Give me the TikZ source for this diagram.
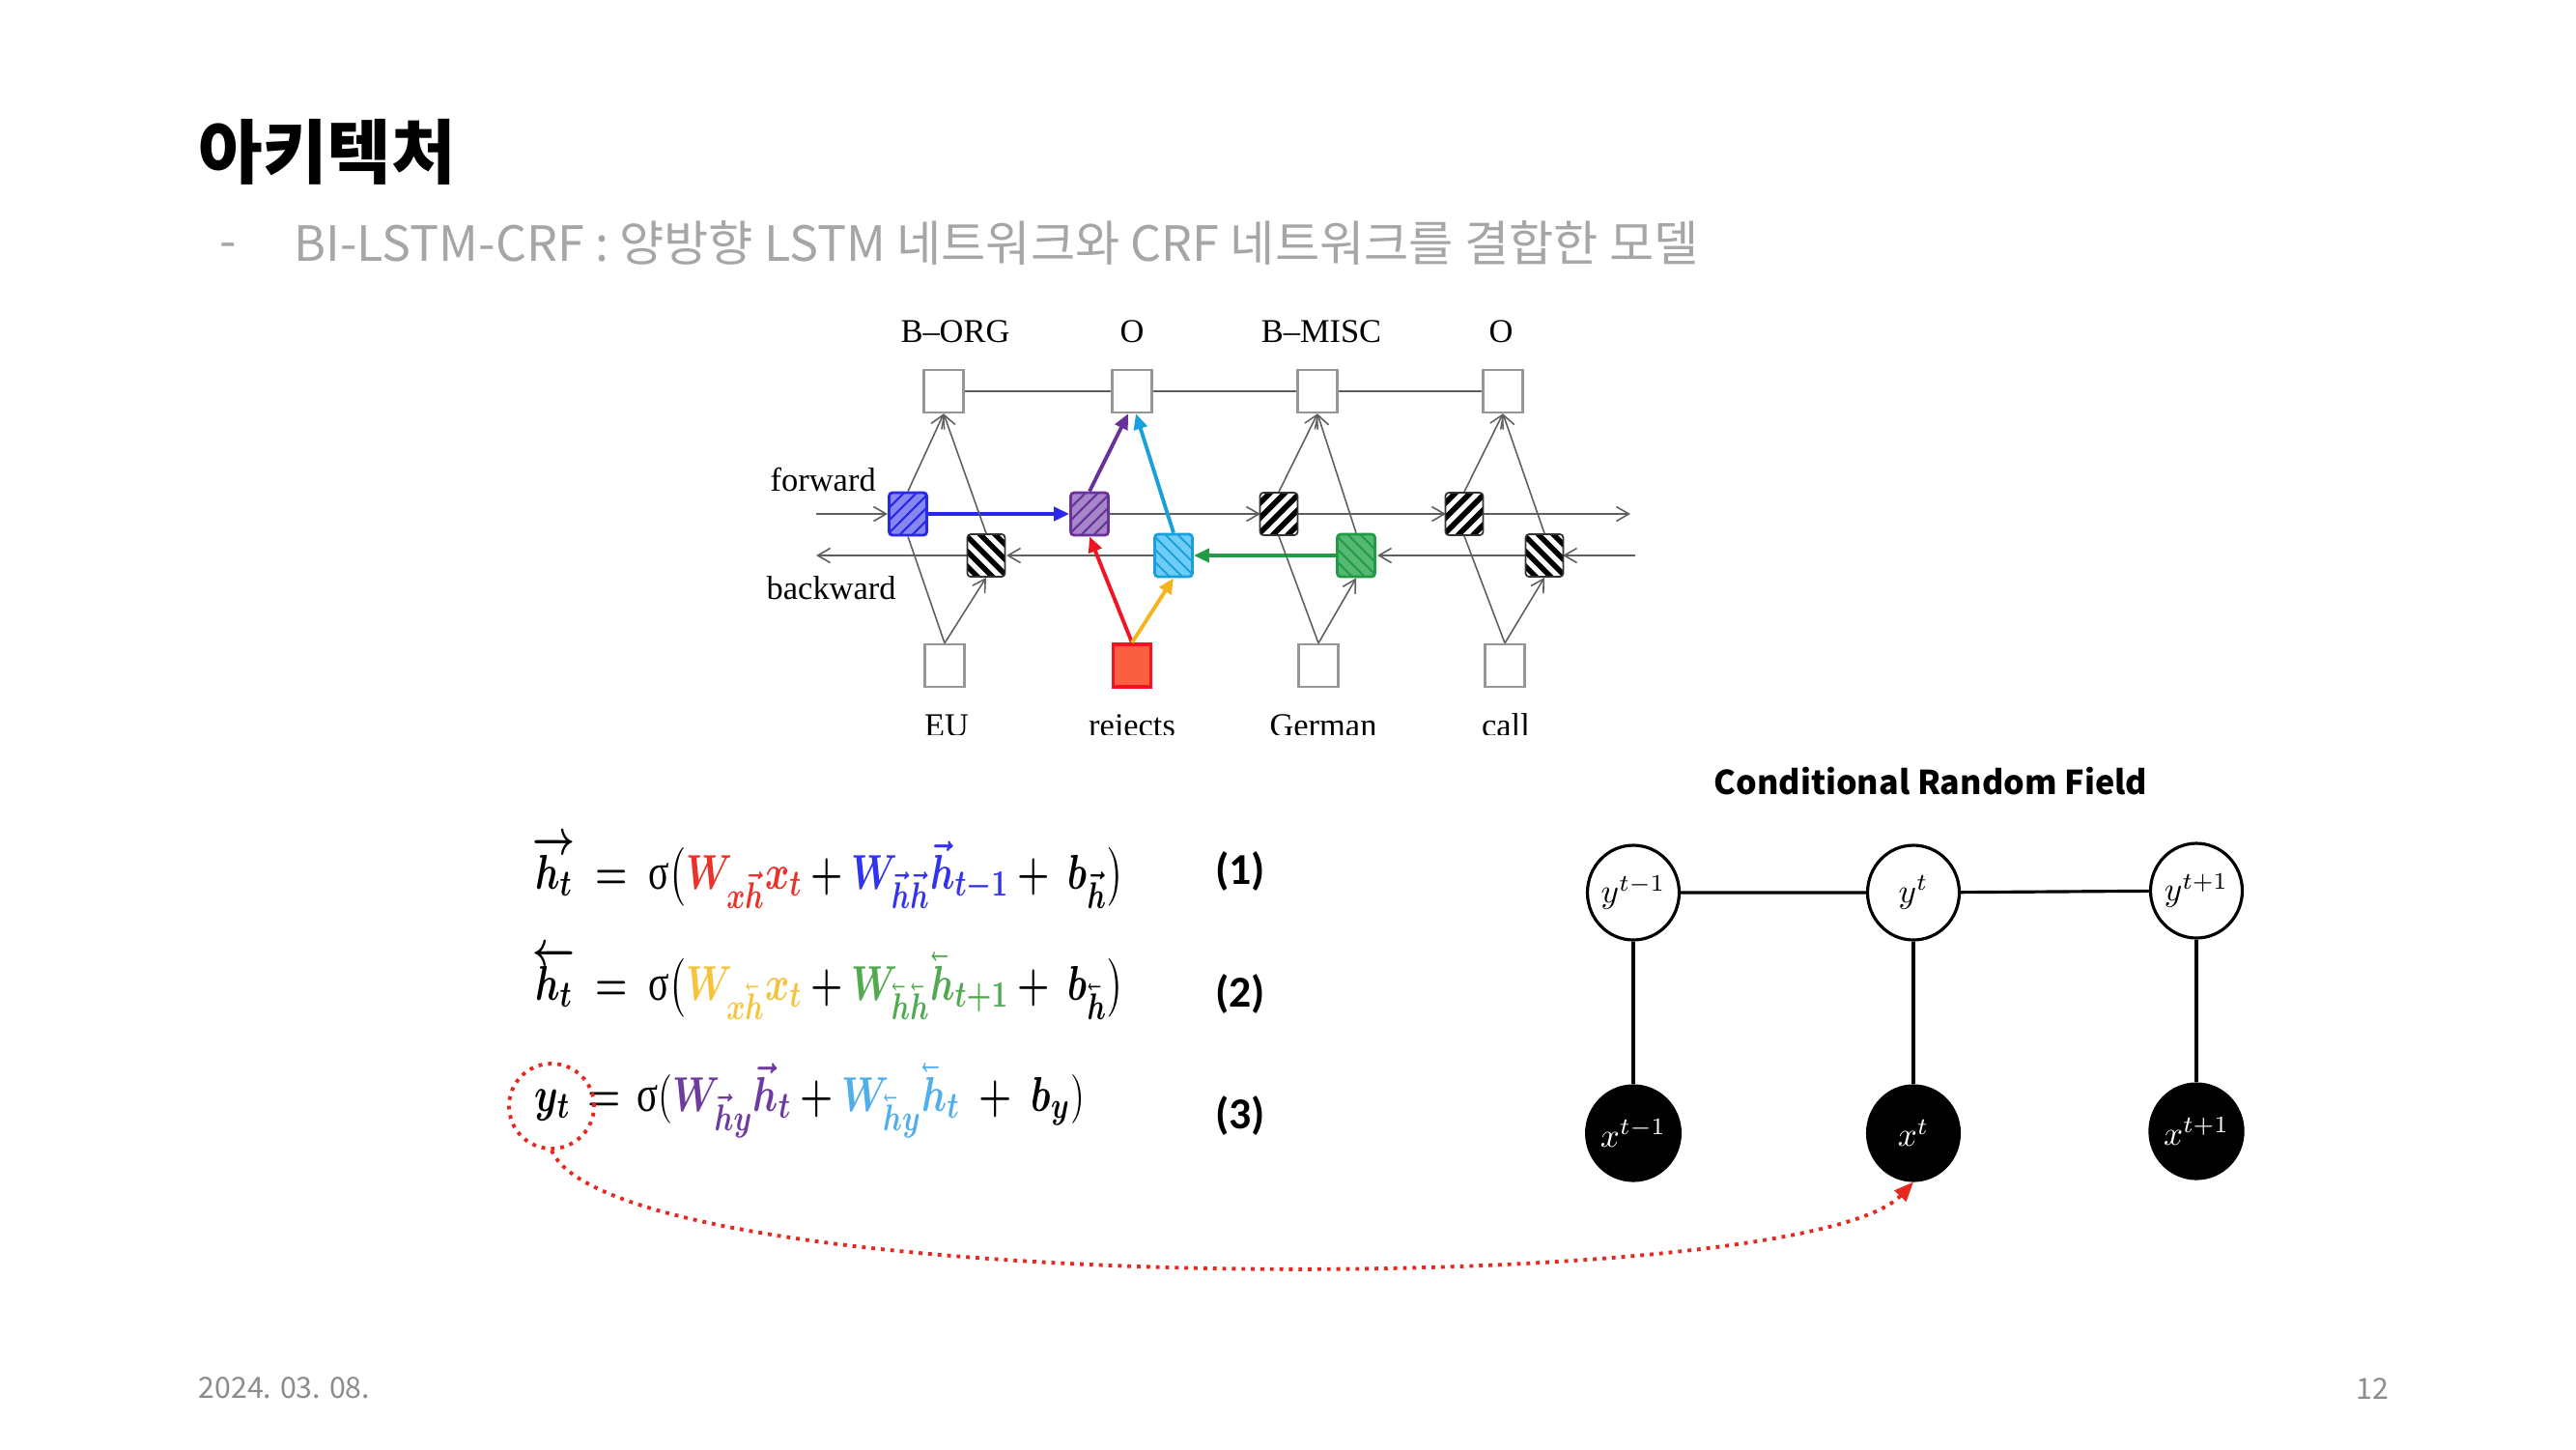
\documentclass[tikz,border=0pt]{standalone}
\usepackage{amsmath}
\usepackage{bm}
\usepackage{graphicx}
\usepackage{fontspec}
\setmainfont{Liberation Serif}
\newfontfamily\krfont{Noto Sans CJK KR}
\newfontfamily\calfont{Carlito}
\usetikzlibrary{arrows.meta,shapes.geometric,calc}
\definecolor{subgray}{RGB}{166,166,166}
\definecolor{footgray}{RGB}{140,140,140}
\definecolor{lgray}{RGB}{95,95,95}
\definecolor{bxgray}{RGB}{150,150,150}
\definecolor{cBlue}{RGB}{40,40,235}
\definecolor{fBlue}{RGB}{135,135,240}
\definecolor{cPurp}{RGB}{105,50,155}
\definecolor{fPurp}{RGB}{165,135,200}
\definecolor{cCyan}{RGB}{25,160,220}
\definecolor{fCyan}{RGB}{110,205,245}
\definecolor{cGreen}{RGB}{35,155,70}
\definecolor{fGreen}{RGB}{85,185,115}
\definecolor{cRed}{RGB}{240,20,35}
\definecolor{fRed}{RGB}{250,95,65}
\definecolor{cOrange}{RGB}{245,180,30}
\definecolor{eRed}{RGB}{235,50,40}
\definecolor{eBlue}{RGB}{50,50,240}
\definecolor{eYellow}{RGB}{245,195,60}
\definecolor{eGreen}{RGB}{80,170,80}
\definecolor{ePurp}{RGB}{110,60,160}
\definecolor{eLBlue}{RGB}{80,175,235}
\definecolor{dotRed}{RGB}{230,40,30}
\newcommand{\rvh}{\bm{\vec{h}}}
\newcommand{\hbold}{\bm{h}}
\newcommand{\lvecbase}[2]{\reflectbox{$#1\vec{\reflectbox{$#1#2$}}$}}
\newcommand{\Lh}{{\mathpalette\lvecbase{\hbold}}}
\tikzset{
  plainbox/.style={draw=bxgray, fill=white, line width=0.7pt, minimum width=0.41cm, minimum height=0.44cm, inner sep=0pt},
  hbox/.style={draw=#1, line width=0.8pt, rounded corners=1pt, minimum width=0.39cm, minimum height=0.44cm, inner sep=0pt},
  stripesNE/.style n args={3}{path picture={\foreach \k in {-3,...,3}{\draw[#1, line width=#2] ([xshift=\k*#3-0.35cm, yshift=-0.35cm]path picture bounding box.center) -- ++(0.7cm,0.7cm);}}},
  stripesNW/.style n args={3}{path picture={\foreach \k in {-3,...,3}{\draw[#1, line width=#2] ([xshift=\k*#3-0.35cm, yshift=0.35cm]path picture bounding box.center) -- ++(0.7cm,-0.7cm);}}},
  garr/.style={draw=lgray, line width=0.45pt, -{Straight Barb[length=0.13cm,width=0.15cm]}},
  gline/.style={draw=lgray, line width=0.45pt},
  carr/.style={draw=#1, line width=1.1pt, -{Triangle[length=0.16cm,width=0.14cm]}},
  lbl/.style={font=\fontsize{9.8}{11}\selectfont, inner sep=0pt},
  ynode/.style={draw=black, line width=0.9pt, fill=white, ellipse, minimum width=0.95cm, minimum height=0.98cm, inner sep=0pt, font=\fontsize{10}{11}\selectfont},
  xnode/.style={draw=black, line width=0.9pt, fill=black, text=white, ellipse, minimum width=0.95cm, minimum height=0.98cm, inner sep=0pt, font=\fontsize{10}{11}\selectfont},
  eqn/.style={anchor=base west, inner sep=0pt, font=\fontsize{15}{18}\selectfont},
  eqnum/.style={inner sep=0pt, font=\calfont\bfseries\fontsize{13}{15}\selectfont},
}
\begin{document}
\begin{tikzpicture}
\useasboundingbox[fill=white] (0,0) rectangle (26.67,-15);

% ---- title and subtitle
\node[anchor=west, inner sep=0pt, font=\krfont\bfseries\fontsize{20.6}{24}\selectfont] (title) at (2.05,-1.57) {아키텍처};
\node[inner sep=0pt, text=subgray, font=\krfont\fontsize{14.3}{17}\selectfont] (dash) at (2.36,-2.60) {-};
\node[anchor=west, inner sep=0pt, text=subgray, font=\krfont\fontsize{14.3}{17}\selectfont] (subtitle) at (3.04,-2.51) {BI-LSTM-CRF : 양방향 LSTM 네트워크와 CRF 네트워크를 결합한 모델};

% ---- footer
\node[anchor=west, inner sep=0pt, text=footgray, font=\krfont\fontsize{8.6}{10}\selectfont] (date) at (2.05,-14.37) {2024. 03. 08.};
\node[inner sep=0pt, text=footgray, font=\krfont\fontsize{8.6}{10}\selectfont] (page) at (24.56,-14.37) {12};

% ---- BI-LSTM diagram
\node[lbl] (L1) at (9.89,-3.43) {B--ORG};
\node[lbl] (L2) at (11.72,-3.43) {O};
\node[lbl] (L3) at (13.68,-3.43) {B--MISC};
\node[lbl] (L4) at (15.54,-3.43) {O};

\node[plainbox] (T1) at (9.77,-4.05) {};
\node[plainbox] (T2) at (11.72,-4.05) {};
\node[plainbox] (T3) at (13.64,-4.05) {};
\node[plainbox] (T4) at (15.56,-4.05) {};
\draw[lgray, line width=0.6pt] (T1.east) -- (T2.west) (T2.east) -- (T3.west) (T3.east) -- (T4.west);

\node[lbl, anchor=west] (fwd) at (7.97,-4.97) {forward};
\node[lbl, anchor=west] (bwd) at (7.93,-6.09) {backward};

\coordinate (fl) at (8.45,-5.32);
\coordinate (fr) at (16.88,-5.32);
\coordinate (br) at (16.93,-5.75);
\coordinate (bl) at (8.45,-5.75);

% bottom input boxes
\node[plainbox] (X1) at (9.78,-6.89) {};
\node[hbox=cRed, fill=fRed, rounded corners=0pt, line width=1pt] (X2) at (11.72,-6.89) {};
\node[plainbox] (X3) at (13.65,-6.89) {};
\node[plainbox] (X4) at (15.58,-6.89) {};

% horizontal recurrent lines (drawn first, boxes on top)
\draw[garr] (fl) -- (9.19,-5.32);
\draw[garr] (11.47,-5.32) -- (13.05,-5.32);
\draw[garr] (13.44,-5.32) -- (14.97,-5.32);
\draw[garr] (15.36,-5.32) -- (fr);
\draw[garr] (br) -- (16.18,-5.75);
\draw[garr] (15.80,-5.75) -- (14.26,-5.75);
\draw[garr] (11.95,-5.75) -- (10.42,-5.75);
\draw[garr] (10.01,-5.75) -- (bl);

% forward hidden boxes
\node[hbox=cBlue, fill=fBlue, stripesNE={cBlue}{0.6pt}{0.13cm}] (F1) at (9.40,-5.32) {};
\node[hbox=cPurp, fill=fPurp, stripesNE={cPurp}{0.6pt}{0.13cm}] (F2) at (11.28,-5.32) {};
\node[hbox=black!80, fill=white, line width=0.5pt, stripesNE={black}{1.6pt}{0.155cm}] (F3) at (13.24,-5.32) {};
\node[hbox=black!80, fill=white, line width=0.5pt, stripesNE={black}{1.6pt}{0.155cm}] (F4) at (15.16,-5.32) {};
% backward hidden boxes
\node[hbox=black!80, fill=white, line width=0.5pt, stripesNW={black}{1.6pt}{0.155cm}] (B1) at (10.21,-5.75) {};
\node[hbox=cCyan, fill=fCyan, stripesNW={cCyan}{0.6pt}{0.13cm}] (B2) at (12.15,-5.75) {};
\node[hbox=cGreen, fill=fGreen, stripesNW={cGreen}{0.6pt}{0.13cm}] (B3) at (14.04,-5.75) {};
\node[hbox=black!80, fill=white, line width=0.5pt, stripesNW={black}{1.6pt}{0.155cm}] (B4) at (15.99,-5.75) {};

% colored recurrent arrows
\draw[carr=cBlue, line width=1.4pt] (F1.east) -- (F2.west);
\draw[carr=cGreen, line width=1.3pt] (B3.west) -- (B2.east);

% vertical connections column 1
\draw[gline] (X1.north) -- (F1.south);
\draw[garr] (X1.north) -- (B1.south);
\draw[garr] (F1.north) -- (T1.south);
\draw[garr] (B1.north) -- (T1.south);
% column 2 (colored)
\draw[carr=cRed] (X2.north) -- (F2.south);
\draw[carr=cOrange] (X2.north) -- (B2.south);
\draw[carr=cPurp] (F2.north) -- ([xshift=-0.04cm]T2.south);
\draw[carr=cCyan] (B2.north) -- ([xshift=0.04cm]T2.south);
% column 3
\draw[gline] (X3.north) -- (F3.south);
\draw[garr] (X3.north) -- (B3.south);
\draw[garr] (F3.north) -- (T3.south);
\draw[garr] (B3.north) -- (T3.south);
% column 4
\draw[gline] (X4.north) -- (F4.south);
\draw[garr] (X4.north) -- (B4.south);
\draw[garr] (F4.north) -- (T4.south);
\draw[garr] (B4.north) -- (T4.south);

% bottom word labels (cut off at the bottom as in the picture)
\begin{scope}
\clip (9,-7.0) rectangle (16.5,-7.60);
\node[lbl, anchor=base] (W1) at (9.80,-7.625) {EU};
\node[lbl, anchor=base] (W2) at (11.72,-7.625) {rejects};
\node[lbl, anchor=base] (W3) at (13.70,-7.625) {German};
\node[lbl, anchor=base] (W4) at (15.59,-7.625) {call};
\end{scope}

% ---- equations
\node[eqn] (E1) at (5.51,-9.20) {\scalebox{0.755}[1]{$\bm{\overrightarrow{h_t}}\;\bm{=}\; \text{σ}\bigl(\textcolor{eRed}{\bm{W}_{\bm{x}\rvh}\bm{x}_{\bm{t}}} \bm{+} \textcolor{eBlue}{\bm{W}_{\rvh\rvh}\rvh_{\bm{t-1}}} \bm{+}\;\bm{b}_{\rvh}\bigr)$}};
\node[eqn] (E2) at (5.51,-10.35) {\scalebox{0.755}[1]{$\bm{\overleftarrow{h_t}}\;\bm{=}\; \text{σ}\bigl(\textcolor{eYellow}{\bm{W}_{\bm{x}\Lh}\bm{x}_{\bm{t}}} \bm{+} \textcolor{eGreen}{\bm{W}_{\Lh\Lh}\Lh_{\bm{t+1}}} \bm{+}\;\bm{b}_{\Lh}\bigr)$}};
\node[eqn] (E3) at (5.53,-11.50) {\scalebox{0.775}[1]{$\bm{y}_{\bm{t}}\,\bm{=}\,\text{σ}(\textcolor{ePurp}{\bm{W}_{\rvh\bm{y}}\rvh_{\bm{t}}} \bm{+} \textcolor{eLBlue}{\bm{W}_{\Lh\bm{y}}\Lh_{\bm{t}}} \;\bm{+}\;\bm{b}_{\bm{y}})$}};
\node[eqnum] (N1) at (12.84,-9.02) {(1)};
\node[eqnum] (N2) at (12.84,-10.29) {(2)};
\node[eqnum] (N3) at (12.84,-11.55) {(3)};

% ---- CRF
\node[inner sep=0pt, font=\krfont\bfseries\fontsize{9.7}{12}\selectfont] (crft) at (19.99,-8.09) {Conditional Random Field};
\node[ynode] (Y1) at (16.91,-9.24) {$y^{t-1}$};
\node[ynode] (Y2) at (19.81,-9.24) {$y^{t}$};
\node[ynode] (Y3) at (22.74,-9.22) {$y^{t+1}$};
\node[xnode] (XX1) at (16.91,-11.73) {$x^{t-1}$};
\node[xnode] (XX2) at (19.81,-11.73) {$x^{t}$};
\node[xnode] (XX3) at (22.74,-11.71) {$x^{t+1}$};
\draw[line width=0.9pt] (Y1) -- (Y2) (Y2) -- (Y3);
\draw[line width=0.9pt] (Y1) -- (XX1) (Y2) -- (XX2) (Y3) -- (XX3);

% ---- red dotted highlight
\node[draw=dotRed, circle, minimum size=0.88cm, inner sep=0pt, line width=1.1pt, dash pattern=on 1.1pt off 1.7pt] (hl) at (5.71,-11.45) {};
\draw[dotRed, line width=1.1pt, dash pattern=on 1.1pt off 1.7pt, -{Triangle[length=0.2cm,width=0.16cm]}] (hl.south) .. controls (6.40,-13.46) and (18.66,-13.46) .. (XX2.south);
\end{tikzpicture}
\end{document}
